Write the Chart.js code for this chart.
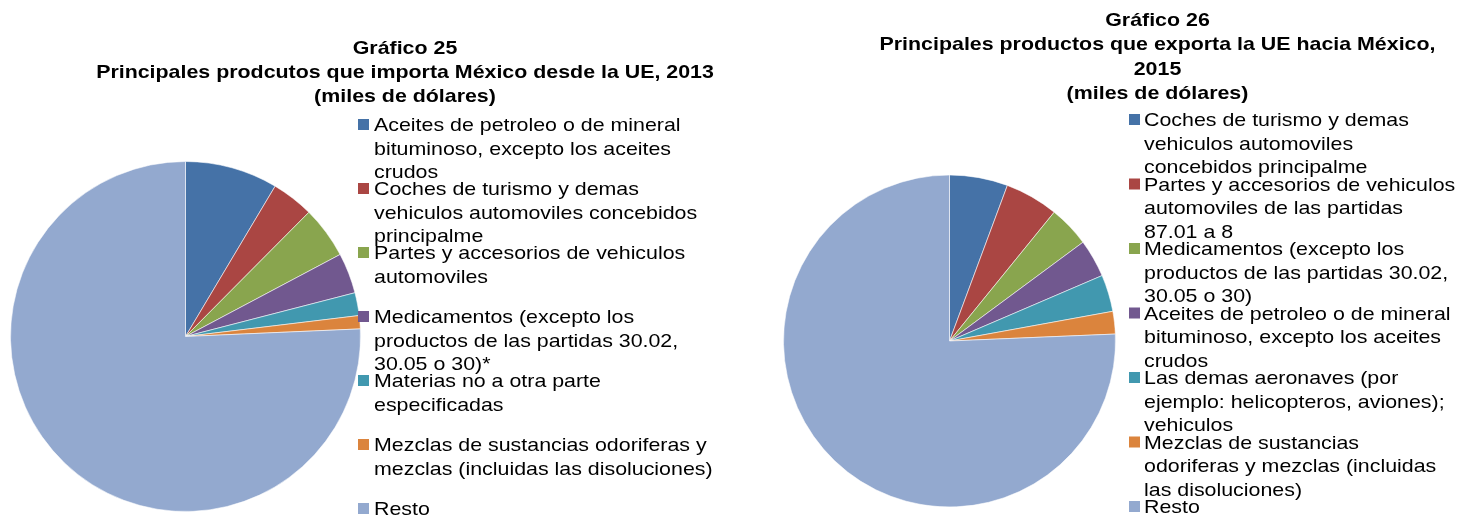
<!DOCTYPE html>
<html>
<head>
<meta charset="utf-8">
<script src="https://cdn.jsdelivr.net/npm/chart.js@4.4.1/dist/chart.umd.min.js"></script>
<style>
  html,body{margin:0;padding:0;background:#fff;}
  #wrap{position:relative;width:1468px;height:518px;overflow:hidden;}
  .cv{position:absolute;top:0;width:734px;height:518px;}
</style>
</head>
<body>
<div id="wrap">
  <div class="cv" style="left:0"><canvas id="g25"></canvas></div>
  <div class="cv" style="left:734px"><canvas id="g26"></canvas></div>
</div>
<script>
// Gráfico 25 - importaciones de México desde la UE, 2013 (miles de dólares)
var titulo25 = ['Gráfico 25', 'Principales prodcutos que importa México desde la UE, 2013', '(miles de dólares)'];
var productos25 = [
  ['Aceites de petroleo o de mineral', 'bituminoso, excepto los aceites', 'crudos'],
  ['Coches de turismo y demas', 'vehiculos automoviles concebidos', 'principalme'],
  ['Partes y accesorios de vehiculos', 'automoviles'],
  ['Medicamentos (excepto los', 'productos de las partidas 30.02,', '30.05 o 30)*'],
  ['Materias no a otra parte', 'especificadas'],
  ['Mezclas de sustancias odoriferas y', 'mezclas (incluidas las disoluciones)'],
  ['Resto']
];
var valores25 = [3424000, 1556000, 1916000, 1496000, 844000, 488000, 30280000];

// Gráfico 26 - exportaciones de la UE hacia México, 2015 (miles de dólares)
var titulo26 = ['Gráfico 26', 'Principales productos que exporta la UE hacia México,', '2015', '(miles de dólares)'];
var productos26 = [
  ['Coches de turismo y demas', 'vehiculos automoviles', 'concebidos principalme'],
  ['Partes y accesorios de vehiculos', 'automoviles de las partidas', '87.01 a 8'],
  ['Medicamentos (excepto los', 'productos de las partidas 30.02,', '30.05 o 30)'],
  ['Aceites de petroleo o de mineral', 'bituminoso, excepto los aceites', 'crudos'],
  ['Las demas aeronaves (por', 'ejemplo: helicopteros, aviones);', 'vehiculos'],
  ['Mezclas de sustancias', 'odoriferas y mezclas (incluidas', 'las disoluciones)'],
  ['Resto']
];
var valores26 = [2381000, 2181000, 1680000, 1551000, 1505000, 922000, 31780000];

var colores = ['#4572A7', '#AA4643', '#89A54E', '#71588F', '#4198AF', '#DB843D', '#93A9CF'];

// text is a bit wider than plain Arial, so it gets a horizontal stretch
var ESTIRA = 1.125;
function texto(ctx, t, x, y) {
  ctx.save();
  ctx.translate(x, y);
  ctx.scale(ESTIRA, 1);
  ctx.fillText(t, 0, 0);
  ctx.restore();
}

// title and wrapped legend are painted straight onto the canvas
var textoLateral = {
  id: 'textoLateral',
  afterDraw: function(chart, args, o) {
    var ctx = chart.ctx;
    ctx.save();
    ctx.fillStyle = '#000';
    ctx.textBaseline = 'alphabetic';
    ctx.font = 'bold 19px "Liberation Sans", Arial, sans-serif';
    ctx.textAlign = 'center';
    o.title.forEach(function(t, i) { texto(ctx, t, o.titleX, o.titleY + i * o.titleStep); });
    ctx.textAlign = 'left';
    ctx.font = '19px "Liberation Sans", Arial, sans-serif';
    var labels = chart.data.labels, cols = chart.data.datasets[0].backgroundColor;
    labels.forEach(function(lines, i) {
      var y = o.legY + i * o.legStep;
      ctx.fillStyle = cols[i];
      ctx.fillRect(o.boxX, y - 12, 11, 11);
      ctx.fillStyle = '#000';
      lines.forEach(function(l, j) { texto(ctx, l, o.textX, y + j * o.lineStep); });
    });
    ctx.restore();
  }
};

function pie(id, labels, values, radius, pad, side) {
  return new Chart(document.getElementById(id), {
    type: 'pie',
    data: { labels: labels, datasets: [{ data: values, backgroundColor: colores,
      borderColor: 'rgba(255,255,255,0.55)', borderWidth: 1, hoverOffset: 0, radius: radius }] },
    options: {
      responsive: false, animation: false, devicePixelRatio: 1,
      layout: { padding: pad },
      plugins: { legend: { display: false }, title: { display: false }, tooltip: { enabled: false },
        textoLateral: side }
    },
    plugins: [textoLateral]
  });
}

['g25', 'g26'].forEach(function(id) {
  var c = document.getElementById(id); c.width = 734; c.height = 518;
});

pie('g25', productos25, valores25, 175,
  { left: 10.5, top: 161.5, right: 373.5, bottom: 6.5 },
  { title: titulo25, titleX: 405, titleY: 54, titleStep: 24,
    boxX: 358, textX: 374, legY: 131, legStep: 64, lineStep: 23.5 });

pie('g26', productos26, valores26, 166,
  { left: 49.5, top: 175, right: 352.5, bottom: 11 },
  { title: titulo26, titleX: 423.5, titleY: 26, titleStep: 24.3,
    boxX: 395, textX: 410, legY: 126, legStep: 64.5, lineStep: 23.7 });
</script>
</body>
</html>
